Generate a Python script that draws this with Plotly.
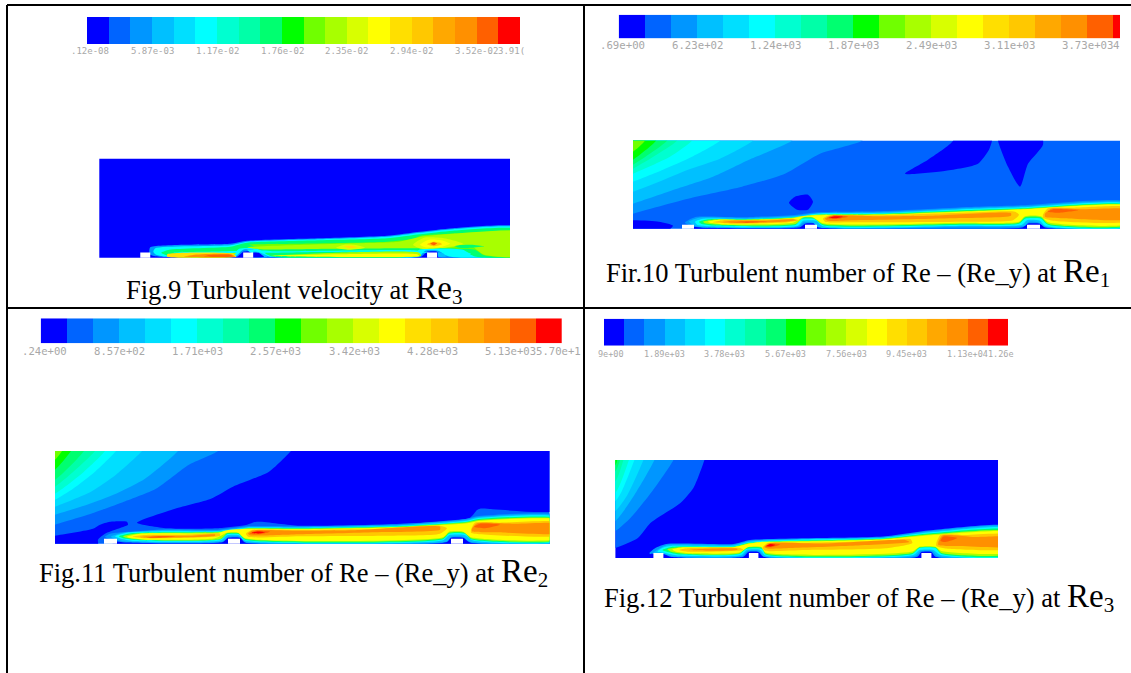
import plotly.graph_objects as go

W_PAGE, H_PAGE = 1131, 673

# 20-step rainbow read from the legends
LEVEL_COLORS = ["#0000ff", "#0064ff", "#0096ff", "#00c0ff", "#00dfff", "#00ffff", "#00ffd0",
                "#00ffa8", "#00ff70", "#00ff00", "#70ff00", "#a8ff00", "#d8ff00", "#ffff00",
                "#ffdf00", "#ffc800", "#ffa800", "#ff9000", "#ff6000", "#ff0000"]
LEVELS = list(range(20))

RE_STYLE = "<span style='font-size:33px'>Re</span><span style='font-size:21px;baseline-shift:-5px'>%s</span>"
CAPTIONS = [
    "Fig.9 Turbulent velocity at " + RE_STYLE % "3",
    "Fir.10 Turbulent number of Re – (Re_y) at " + RE_STYLE % "1",
    "Fig.11 Turbulent number of Re – (Re_y) at " + RE_STYLE % "2",
    "Fig.12 Turbulent number of Re – (Re_y) at " + RE_STYLE % "3",
]

LEGEND9 = [".12e-08", "5.87e-03", "1.17e-02", "1.76e-02", "2.35e-02", "2.94e-02", "3.52e-02", "3.91("]
LEGEND10 = [".69e+00", "6.23e+02", "1.24e+03", "1.87e+03", "2.49e+03", "3.11e+03", "3.73e+03", "4"]
LEGEND11 = [".24e+00", "8.57e+02", "1.71e+03", "2.57e+03", "3.42e+03", "4.28e+03", "5.13e+03", "5.70e+1"]
LEGEND12 = ["9e+00", "1.89e+03", "3.78e+03", "5.67e+03", "7.56e+03", "9.45e+03", "1.13e+04", "1.26e"]

# Domain size (length, height) of each contour field
SIZE9, SIZE10, SIZE11, SIZE12 = (411, 99), (487, 88), (494.5, 92.7), (382.6, 98)

# Steps on the floor: start and end along the wall, and height
STEPS9 = [(41, 51), (144, 154), (328, 338)]
STEPS10 = [(49, 61), (172, 184), (394, 407)]
STEPS11 = [(49, 62), (173, 185), (396, 408)]
STEPS12 = [(38, 48), (133.5, 143), (306, 316)]
STEP_H9, STEP_H10, STEP_H11, STEP_H12 = 5.2, 4, 5, 5

# Iso-bands: (level, outline as (position along wall, height above floor))
BANDS9 = [
    (0, [(-15, -5), (425, -5), (425, 110), (-15, 110)]),
    (2, [(50, 6), (51, 10.5), (131, 14), (148, 17), (221, 19.5), (288, 22), (321, 26), (354, 29.5), (425, 30),
         (425, 0.7), (340, 0.7), (338, 6), (328, 6), (322, 1), (158, 1), (154, 6), (144, 6), (138, 1), (60, 1), (51, 3)]),
    (5, [(54, 6), (56, 9.5), (131, 12.5), (148, 16), (221, 18.5), (288, 21), (321, 25), (354, 28.5), (425, 29),
         (425, 1), (350, 1.2), (339, 7), (326, 7), (320, 1.2), (170, 1.2), (154, 8), (144, 8), (136, 1.3), (64, 1.3), (56, 3.5)]),
    (8, [(62, 5), (70, 8), (131, 11), (148, 15), (221, 17.5), (288, 19.5), (321, 23.5), (354, 27), (425, 27.5),
         (425, 1.3), (375, 1.5), (364, 8), (320, 8), (312, 1.5), (172, 1.5), (158, 9), (140, 9), (132, 1.5), (70, 1.5)]),
    (5, [(70, 5.5), (110, 6), (140, 6.5), (135, 5), (90, 4.5)]),
    (5, [(148, 8), (175, 6.5), (230, 7), (315, 7.5), (330, 5), (300, 6), (220, 5.8), (170, 5), (152, 5)]),
    (3, [(154, 0.8), (154, 6), (160, 5.5), (166, 3), (168, 0.8)]),
    (0, [(154, 1), (154, 5), (160, 4.8), (163, 2.5), (165, 1)]),
    (11, [(75, 3.5), (110, 4), (137, 4.5), (132, 1.5), (72, 1.5)]),
    (10, [(150, 13), (200, 14), (288, 16), (315, 19), (322, 22), (350, 24), (380, 25.5), (425, 26),
          (425, 1.8), (385, 2.5), (376, 8), (360, 9), (310, 10), (250, 9.5), (180, 9), (158, 11)]),
    (11, [(148, 10.5), (190, 12.5), (260, 14.5), (300, 16), (322, 21), (354, 24), (425, 25),
          (425, 2.2), (385, 3), (372, 12), (350, 10), (300, 9.5), (230, 9), (160, 8.5)]),
    (8, [(355, 12), (372, 13), (385, 11.5), (372, 10), (360, 10)]),
    (5, [(342, 3), (350, 7), (362, 6.5), (372, 4), (355, 2.5)]),
    (3, [(339, 1), (339, 5), (344, 4.5), (347, 1.5)]),
    (11, [(172, 2), (240, 5), (320, 5), (322, 2)]),
    (13, [(173, 1.8), (240, 3.5), (318, 3.5), (320, 1.8)]),
    (12, [(237, 10), (245, 13), (258, 12.5), (266, 10), (250, 8)]),
    (14, [(245, 11.5), (252, 12), (258, 10.5), (250, 9.5)]),
    (12, [(314, 13), (325, 20), (345, 19.5), (364, 14), (345, 10), (322, 9)]),
    (13, [(321, 13), (330, 18), (344, 17), (351, 14), (340, 10.5), (326, 10.5)]),
    (15, [(328, 13.5), (334, 16), (341, 15), (343, 13.5), (335, 11.5)]),
    (18, [(331, 14), (334, 15.5), (338, 14.5), (335, 12.5)]),
    (14, [(68, 1), (68, 3.5), (134, 4), (137, 1)]),
    (17, [(85, 1), (95, 3), (132, 3.5), (136, 1)]),
    (18, [(105, 1.2), (110, 2.6), (131, 3), (134, 1.2)]),
]

BANDS10 = [
    (1, [(-15, -5), (500, -5), (500, 100), (-15, 100)]),
    (2, [(-15, 10), (0, 15), (55, 30), (109, 42), (152, 55), (187, 75), (229, 88), (240, 100), (-15, 100)]),
    (3, [(-15, 20), (0, 25), (44, 40), (80, 52), (116, 69), (159, 88), (170, 100), (-15, 100)]),
    (4, [(-15, 32), (0, 37), (26, 47), (55, 59), (87, 70), (120, 88), (130, 100), (-15, 100)]),
    (5, [(-15, 42), (0, 47), (30, 59), (59, 72), (87, 88), (95, 100), (-15, 100)]),
    (6, [(-15, 49), (0, 55), (37, 72), (59, 88), (66, 100), (-15, 100)]),
    (7, [(-15, 53), (0, 60), (44, 88), (50, 100), (-15, 100)]),
    (8, [(-15, 57), (0, 64), (34, 88), (40, 100), (-15, 100)]),
    (9, [(-15, 62), (0, 69), (23, 88), (28, 100), (-15, 100)]),
    (10, [(-15, 70), (0, 77), (12, 88), (16, 100), (-15, 100)]),
    (0, [(320, 100), (320, 88), (295, 69), (272, 55), (313, 58), (345, 65), (356, 79), (359, 88), (359, 100)]),
    (0, [(365, 100), (365, 88), (375, 62), (387, 42), (395, 65), (410, 84), (407, 100)]),
    (0, [(156, 26), (162, 32), (175, 34), (180, 27), (175, 19), (164, 19)]),
    (0, [(-15, -3), (-15, 7), (26, 7), (40, 3), (33, -3)]),
    (0, [(58, -3), (58, 1.2), (500, 1.2), (500, -3)]),
    (2, [(52, 6), (58, 10), (64, 12), (113, 11.5), (164, 14), (184, 16.5), (247, 17.5), (342, 22), (392, 23.5), (500, 26),
         (500, 1), (412, 1.2), (407, 5), (394, 5), (390, 1.5), (190, 1.2), (184, 5), (172, 5), (167, 1.5), (70, 1), (61, 2)]),
    (3, [(56, 7), (66, 11), (113, 10.5), (164, 13), (184, 15.5), (247, 16.5), (342, 21), (392, 22.5), (500, 25),
         (500, 2), (412, 2), (406, 6), (396, 7), (392, 3), (330, 2), (185, 1.5), (180, 6), (170, 6), (166, 2.5), (70, 1.5), (62, 3)]),
    (5, [(62, 7), (70, 10), (113, 9.5), (164, 12), (184, 15), (247, 15.5), (342, 20), (392, 21.5), (500, 24),
         (500, 2.5), (412, 3), (407, 8), (394, 8.5), (389, 4), (330, 3), (190, 2.5), (183, 8), (170, 8), (165, 3), (75, 2.5), (64, 4)]),
    (8, [(66, 7), (75, 9.5), (113, 9.5), (164, 11.5), (184, 14), (247, 15), (342, 19), (392, 20.5), (500, 23),
         (500, 3.5), (415, 4), (408, 10), (392, 10), (386, 5), (330, 4), (190, 3.5), (182, 9.5), (168, 9.5), (163, 4), (80, 3.2), (68, 5)]),
    (11, [(70, 7), (80, 9), (113, 9), (160, 11), (168, 12.5), (184, 14), (247, 14.5), (342, 18), (392, 20), (500, 22.5),
          (500, 4.5), (415, 5), (408, 11.5), (392, 11.5), (386, 6), (330, 5), (190, 4.5), (180, 11), (170, 11), (163, 5), (90, 3.8), (72, 5.5)]),
    (13, [(75, 7), (85, 9), (113, 8.5), (160, 10.5), (170, 12.5), (184, 13.5), (247, 14), (342, 17.5), (392, 19.5), (500, 22),
          (500, 5.5), (415, 6.5), (408, 12.5), (392, 12.5), (386, 7), (330, 6), (190, 5.5), (180, 11.5), (170, 11.5), (160, 6), (90, 4.5), (77, 6)]),
    (15, [(80, 6.5), (90, 8.5), (120, 8.5), (160, 10), (166, 8.5), (155, 6.5), (100, 5)]),
    (15, [(190, 10), (195, 13), (247, 13.5), (330, 16), (382, 17), (386, 14), (380, 8.5), (330, 7), (220, 6.5), (192, 7)]),
    (15, [(410, 14), (415, 20.5), (440, 21), (500, 21), (500, 8), (420, 8), (410, 11)]),
    (17, [(88, 6.5), (100, 8), (130, 8), (160, 9.5), (163, 8.5), (150, 7), (100, 5.8)]),
    (17, [(192, 10), (198, 13), (240, 12.5), (300, 13), (378, 15.5), (378, 13), (320, 10.5), (220, 8.5), (195, 8)]),
    (17, [(412, 15), (418, 20), (450, 19.5), (500, 19), (500, 10), (430, 10.5), (412, 12)]),
    (18, [(100, 6.5), (115, 7.5), (135, 7), (115, 5.8)]),
    (18, [(194, 10.5), (200, 13), (215, 12), (205, 10)]),
    (18, [(415, 17), (420, 19.5), (445, 18.5), (425, 16)]),
    (19, [(196, 11), (202, 12.5), (210, 12), (203, 10.5)]),
]

BANDS11 = [
    (1, [(-15, -5), (510, -5), (510, 105), (-15, 105)]),
    (2, [(-15, 14), (0, 19), (36, 30), (69, 42), (101, 55), (134, 79), (163, 92.7), (172, 105), (-15, 105)]),
    (3, [(-15, 24), (0, 29), (32, 39), (61, 50), (90, 65), (123, 92.7), (130, 105), (-15, 105)]),
    (4, [(-15, 32), (0, 37), (36, 52), (61, 69), (87, 92.7), (95, 105), (-15, 105)]),
    (5, [(-15, 39), (0, 44), (18, 55), (40, 72), (61, 92.7), (68, 105), (-15, 105)]),
    (6, [(-15, 45), (0, 50), (29, 72), (50, 92.7), (56, 105), (-15, 105)]),
    (7, [(-15, 52), (0, 57), (40, 92.7), (46, 105), (-15, 105)]),
    (8, [(-15, 60), (0, 64), (29, 92.7), (34, 105), (-15, 105)]),
    (9, [(-15, 68), (0, 74), (16, 92.7), (22, 105), (-15, 105)]),
    (10, [(-15, 78), (0, 84), (7, 92.7), (12, 105), (-15, 105)]),
    (0, [(82, 21), (120, 35), (156, 45), (178, 57), (214, 72), (236, 92.7), (245, 105), (510, 105), (510, 35), (425, 35),
         (422, 33.7), (415, 26), (345, 20), (245, 18), (202, 22), (192, 19), (162, 15.4), (112, 15.4)]),
    (0, [(-15, -3), (-15, 5), (0, 8), (38, 15), (45, 19), (55, 22), (72, 22), (73, 19), (62, 14.7), (50, 10), (43, 4), (43, -3)]),
    (0, [(58, -3), (58, 1.2), (510, 1.2), (510, -3)]),
    (2, [(50, 7), (55, 10), (67, 11.4), (112, 14.5), (162, 14), (192, 17.5), (245, 17.5), (345, 19.5), (412, 25), (422, 27.5), (510, 27.5),
         (510, 1), (415, 1.3), (408, 6), (396, 6), (392, 1.8), (190, 1.3), (185, 6), (173, 6), (168, 1.8), (70, 1.3), (60, 3)]),
    (3, [(56, 7), (68, 11), (112, 13.5), (162, 13), (192, 16.5), (245, 16.5), (345, 18.7), (412, 24), (422, 26.5), (510, 26.5),
         (510, 1.8), (415, 2), (408, 7), (396, 7), (392, 2.5), (190, 2), (185, 7), (173, 7), (168, 2.5), (72, 2), (62, 4)]),
    (5, [(60, 7.5), (72, 11), (112, 12.5), (162, 12.5), (192, 16), (245, 16), (345, 18), (412, 23), (422, 25.5), (510, 25.5),
         (510, 3.2), (418, 3.2), (410, 8.5), (394, 8.5), (388, 3.5), (190, 3.2), (184, 8.5), (172, 8.5), (166, 3.5), (78, 2.8), (66, 5)]),
    (8, [(64, 7.5), (76, 10.5), (112, 11.5), (162, 12), (192, 15.5), (245, 15.5), (345, 17.5), (412, 22), (422, 24.5), (510, 24.5),
         (510, 4.2), (416, 4.5), (410, 10), (394, 10), (388, 4.5), (190, 4), (184, 9.5), (172, 9.5), (166, 4.5), (85, 3.5), (68, 5.5)]),
    (11, [(68, 7.5), (80, 10), (112, 11), (162, 11.5), (192, 15), (245, 15), (345, 17), (412, 21.5), (422, 23.5), (510, 23.5),
          (510, 5), (416, 5.5), (410, 11), (394, 11), (388, 5.5), (190, 5), (184, 10.5), (172, 10.5), (166, 5), (90, 3.8), (71, 6)]),
    (13, [(72, 7), (85, 10), (112, 10.5), (162, 10.5), (172, 13.5), (192, 15), (245, 14.5), (345, 16.5), (412, 20.5), (425, 23), (510, 23),
          (510, 6), (416, 6.5), (408, 12), (394, 12), (388, 6.5), (190, 5.5), (183, 11), (172, 11), (160, 5.5), (95, 4), (74, 6)]),
    (15, [(78, 7), (90, 8.7), (130, 9), (165, 10), (165, 8), (130, 6), (90, 5.4)]),
    (15, [(191, 10), (197, 13.7), (245, 13.7), (345, 15.5), (385, 18), (392, 15.5), (385, 10), (330, 8), (245, 7.5), (193, 7)]),
    (15, [(416, 14), (420, 21), (445, 21), (510, 21), (510, 9), (425, 9.5), (416, 11)]),
    (17, [(85, 6.8), (100, 8), (135, 8), (160, 9.3), (160, 8), (120, 6.2), (95, 5.8)]),
    (17, [(193, 10), (198, 13.2), (240, 13), (300, 13.5), (385, 17), (385, 14), (320, 11.5), (245, 9.5), (195, 8.5)]),
    (17, [(417, 15), (422, 20.4), (460, 20), (510, 19.5), (510, 11), (440, 11.5), (417, 12.5)]),
    (18, [(92, 6.2), (105, 7.6), (120, 7.2), (106, 6)]),
    (18, [(195, 10), (200, 12.7), (215, 12), (205, 9.5)]),
    (18, [(419, 17), (425, 20), (445, 19), (430, 15.5)]),
    (19, [(197, 11), (203, 12.2), (210, 11.5), (203, 10.2)]),
]

BANDS12 = [
    (0, [(-15, -5), (400, -5), (400, 112), (-15, 112)]),
    (1, [(-15, 6), (0, 10), (22.5, 20), (35, 35), (65, 55), (78, 70), (89, 98), (92, 112), (-15, 112)]),
    (2, [(-15, 22), (0, 27), (15, 40), (37, 67), (58, 98), (62, 112), (-15, 112)]),
    (3, [(-15, 32), (0, 37), (19, 63), (39, 98), (43, 112), (-15, 112)]),
    (4, [(-15, 42), (0, 47), (12, 63), (28, 98), (32, 112), (-15, 112)]),
    (5, [(-15, 52), (0, 57), (6.5, 67), (19, 98), (23, 112), (-15, 112)]),
    (6, [(-15, 60), (0, 65), (13.5, 98), (17, 112), (-15, 112)]),
    (7, [(-15, 72), (0, 77), (8, 98), (11, 112), (-15, 112)]),
    (8, [(-15, 82), (0, 87), (4.6, 98), (7, 112), (-15, 112)]),
    (9, [(-15, 88), (0, 93), (1.8, 98), (4, 112), (-15, 112)]),
    (2, [(34, 4.7), (40, 10), (51, 14), (118, 14), (134.6, 18), (190, 19.7), (268, 21.5), (318, 28), (400, 31),
         (400, 1), (320, 1.2), (316, 6), (306, 6), (302, 1.2), (148, 1.2), (143, 6), (133, 6), (128, 1.2), (56, 1), (48, 4)]),
    (3, [(38, 5), (44, 9.5), (52, 13), (118, 13), (134.6, 17), (190, 19), (268, 20.5), (318, 27), (400, 30),
         (400, 1.6), (322, 2), (317, 7), (305, 7), (300, 2), (148, 1.8), (144, 7), (132, 7), (127, 2), (58, 1.6), (49, 4)]),
    (5, [(42, 6.5), (48, 10.5), (56, 12), (118, 12), (134.6, 16), (190, 18.5), (268, 20), (318, 26), (400, 29),
         (400, 2.5), (325, 3), (318, 8), (304, 8), (298, 3), (150, 2.6), (145, 8), (131, 8), (126, 3), (62, 2.5), (50, 5)]),
    (8, [(47, 8), (56, 11), (118, 11.5), (134.6, 15.5), (190, 17.5), (268, 19.5), (318, 25), (400, 27.5),
         (400, 3.6), (326, 4), (320, 10), (304, 10), (297, 4), (150, 3.6), (147, 9), (131, 9), (124, 4), (65, 3.4), (52, 6)]),
    (11, [(52, 8.7), (62, 10.5), (118, 11), (134.6, 15), (190, 17), (268, 19), (318, 24), (400, 26),
          (400, 5), (326, 5), (320, 10.7), (304, 10.7), (297, 5), (150, 4.6), (146, 10.5), (131, 10.5), (124, 4.6), (70, 4), (55, 6.5)]),
    (13, [(57, 8.5), (66, 10.5), (118, 10.8), (132, 14), (145, 16), (190, 16.5), (268, 18.5), (318, 23), (400, 25),
          (400, 6.5), (326, 7), (320, 11.3), (304, 11.3), (297, 6.5), (150, 5.5), (146, 11), (133, 11), (124, 5.5), (75, 4.7), (60, 6.5)]),
    (15, [(64, 8), (72, 9.7), (125, 9.9), (128, 8), (110, 6.8), (72, 6.3)]),
    (15, [(147, 10), (152, 15), (190, 15.3), (268, 17), (295, 19), (297, 15), (270, 9.7), (190, 8), (150, 7.3)]),
    (15, [(321, 15), (325, 23), (350, 23), (400, 23), (400, 10), (330, 9.5), (321, 12)]),
    (17, [(72, 7.9), (85, 9), (122, 9.3), (122, 8.2), (95, 7.2)]),
    (17, [(149, 11), (153, 14.5), (210, 14.5), (290, 18), (294, 16), (240, 12.5), (175, 10), (152, 9.5)]),
    (17, [(323, 16), (327, 22.5), (360, 21), (400, 20.5), (400, 12), (345, 12), (323, 13)]),
    (18, [(150, 11), (155, 14.5), (165, 13.5), (156, 10.8)]),
    (18, [(325, 17), (328, 21.5), (342, 20), (330, 16)]),
    (19, [(151, 12), (155, 14), (160, 13), (155, 11.5)]),
]

# Page layout, in page pixels: field rectangle, legend rectangle, legend label line, caption
FIELD_BOX = [(99.3, 158.7, 510, 257.7), (633, 140.7, 1120, 228.7), (55, 451, 549.5, 543.7), (615.4, 460, 998, 558)]
BAR_BOX = [(87, 17, 520, 44), (618.7, 14.7, 1120, 38.3), (40.7, 318.3, 562, 343.3), (604, 318.7, 1008, 345.7)]
BAR_SPAN = [20, 19.27, 20, 20]
LABEL_Y = [51.5, 45.5, 350.5, 353.5]
LABEL_SIZE = [9, 10.7, 10.6, 8.5]
CAPTION_XY = [(124, 289), (604, 272), (37, 572), (602, 597)]


def fx(px):
    return px / W_PAGE


def fy(py):
    return 1 - py / H_PAGE


fig = go.Figure()
annotations = []
layout_axes = {}
sizes = [SIZE9, SIZE10, SIZE11, SIZE12]
bands = [BANDS9, BANDS10, BANDS11, BANDS12]
steps = [STEPS9, STEPS10, STEPS11, STEPS12]
step_h = [STEP_H9, STEP_H10, STEP_H11, STEP_H12]
legends = [LEGEND9, LEGEND10, LEGEND11, LEGEND12]

for i in range(4):
    fa, ba = 2 * i + 1, 2 * i + 2
    # contour field
    l, t, r, b = FIELD_BOX[i]
    layout_axes[f"xaxis{fa}"] = dict(domain=[fx(l), fx(r)], range=[0, sizes[i][0]], visible=False, anchor=f"y{fa}", fixedrange=True)
    layout_axes[f"yaxis{fa}"] = dict(domain=[fy(b), fy(t)], range=[0, sizes[i][1]], visible=False, anchor=f"x{fa}", fixedrange=True)
    for lvl, pts in bands[i]:
        fig.add_trace(go.Scatter(x=[p[0] for p in pts] + [pts[0][0]], y=[p[1] for p in pts] + [pts[0][1]],
                                 mode="lines", fill="toself", fillcolor=LEVEL_COLORS[lvl],
                                 line=dict(width=0, shape="spline", smoothing=0.6), hoverinfo="skip",
                                 xaxis=f"x{fa}", yaxis=f"y{fa}", showlegend=False))
    for s0, s1 in steps[i]:
        fig.add_trace(go.Scatter(x=[s0, s1, s1, s0, s0], y=[-2, -2, step_h[i], step_h[i], -2], mode="lines",
                                 fill="toself", fillcolor="white", line=dict(width=0), hoverinfo="skip",
                                 xaxis=f"x{fa}", yaxis=f"y{fa}", showlegend=False))
    # legend bar
    l, t, r, b = BAR_BOX[i]
    layout_axes[f"xaxis{ba}"] = dict(domain=[fx(l), fx(r)], range=[0, BAR_SPAN[i]], visible=False, anchor=f"y{ba}", fixedrange=True)
    layout_axes[f"yaxis{ba}"] = dict(domain=[fy(b), fy(t)], range=[0, 1], visible=False, anchor=f"x{ba}", fixedrange=True)
    scale = []
    for k, c in enumerate(LEVEL_COLORS):
        scale += [[k / 20, c], [(k + 1) / 20, c]]
    fig.add_trace(go.Heatmap(z=[LEVELS], x0=0.5, dx=1, y0=0.5, dy=1, zmin=-0.5, zmax=19.5, colorscale=scale,
                             showscale=False, hoverinfo="skip", xaxis=f"x{ba}", yaxis=f"y{ba}"))
    # legend labels, right-aligned at every third band; the last runs on from band 19
    for j, txt in enumerate(legends[i]):
        is_last = j == len(legends[i]) - 1
        annotations.append(dict(text=txt, x=19 if is_last else 1 + 3 * j, xref=f"x{ba}", y=fy(LABEL_Y[i]), yref="paper",
                                xanchor="left" if is_last else "right", yanchor="middle", showarrow=False,
                                borderpad=0, borderwidth=0,
                                font=dict(family="DejaVu Sans Mono", size=LABEL_SIZE[i], color="#a8a8a8")))
    # caption
    cx, cy = CAPTION_XY[i]
    annotations.append(dict(text=CAPTIONS[i], x=fx(cx), y=fy(cy), xref="paper", yref="paper", xanchor="left", yanchor="middle",
                            showarrow=False, font=dict(family="Liberation Serif", size=26.5, color="black")))

# Table rules
rules = [(7, 5, 1131, 5), (7, 308, 1131, 308), (7, 5, 7, 673), (584, 5, 584, 673)]
shapes = [dict(type="line", xref="paper", yref="paper", x0=fx(a), y0=fy(b), x1=fx(c), y1=fy(d),
               line=dict(color="black", width=2)) for a, b, c, d in rules]

fig.update_layout(width=W_PAGE, height=H_PAGE, margin=dict(l=0, r=0, t=0, b=0), paper_bgcolor="white", plot_bgcolor="white",
                  showlegend=False, annotations=annotations, shapes=shapes, **layout_axes)
fig.write_html("out.html", config={"displayModeBar": False},
               post_script="document.body.style.margin='0';document.body.style.overflow='hidden';")
